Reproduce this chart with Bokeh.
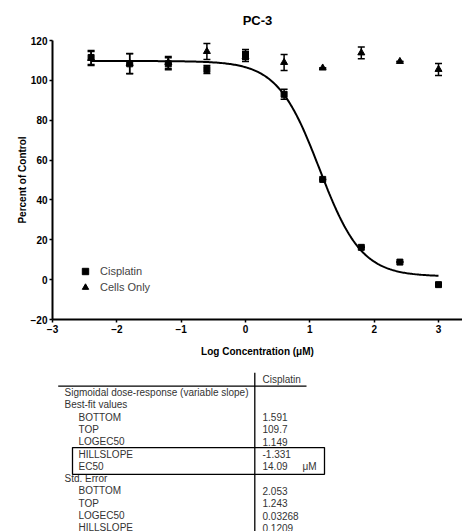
import numpy as np
from bokeh.plotting import figure
from bokeh.models import (Range1d, FixedTicker, Whisker, TeeHead, ColumnDataSource,
                          Legend, LegendItem, Title)
from bokeh.layouts import column
from bokeh.core.properties import value
from bokeh.embed import file_html
from bokeh.resources import INLINE

# ---------------- data ----------------
log_conc = [-2.4, -1.8, -1.2, -0.6, 0.0, 0.6, 1.2, 1.8, 2.4, 3.0]
cisplatin = [111.5, 108.3, 108.3, 105.5, 113.0, 93.0, 50.3, 16.2, 8.8, -2.5]
cisplatin_err = [3.5, 5.0, 3.0, 2.0, 2.5, 2.5, 0.0, 0.0, 0.0, 0.0]
cells_only = [111.0, 108.5, 109.0, 114.5, 112.0, 109.0, 106.2, 113.8, 109.5, 105.5]
cells_only_err = [3.5, 5.0, 3.0, 4.0, 2.5, 4.0, 0.0, 3.0, 0.0, 3.0]

x_ticks = [-3, -2, -1, 0, 1, 2, 3]
y_ticks = [-20, 0, 20, 40, 60, 80, 100, 120]

# fit parameters (from the results table)
fit_bottom = 1.591
fit_top = 109.7
fit_logec50 = 1.149
fit_hillslope = -1.331

table_header = "Cisplatin"
table_labels = ["Sigmoidal dose-response (variable slope)", "Best-fit values",
                "BOTTOM", "TOP", "LOGEC50", "HILLSLOPE", "EC50",
                "Std. Error", "BOTTOM", "TOP", "LOGEC50", "HILLSLOPE"]
table_indent = [0, 0, 1, 1, 1, 1, 1, 0, 1, 1, 1, 1]
table_values = ["", "", "1.591", "109.7", "1.149", "-1.331", "14.09",
                "", "2.053", "1.243", "0.03268", "0.1209"]
table_units = ["", "", "", "", "", "", "\u03bcM", "", "", "", "", ""]

FONT = value("Liberation Sans")

W = 462
PLOT_H = 372
TABLE_H = 531 - PLOT_H
LEFT = 52

# ---------------- plot ----------------
p = figure(width=W, height=PLOT_H, x_range=Range1d(-3, 3.373), y_range=Range1d(-20, 120),
           output_backend="svg", toolbar_location=None,
           min_border_left=LEFT, min_border_right=0, min_border_top=40, min_border_bottom=53)
p.outline_line_color = None
p.xgrid.visible = False
p.ygrid.visible = False
p.background_fill_color = "white"
p.border_fill_color = "white"

p.title.text = "PC-3"
p.title.align = "center"
p.title.vertical_align = "top"
p.title.offset = 4
p.title.text_font = "Liberation Sans"
p.title.text_font_size = "13px"
p.title.text_font_style = "bold"
p.title.text_color = "black"
p.title.standoff = 22

for ax in (p.xaxis[0], p.yaxis[0]):
    ax.axis_line_width = 2
    ax.axis_line_color = "black"
    ax.major_tick_line_width = 1.5
    ax.major_tick_line_color = "black"
    ax.major_tick_out = 3
    ax.major_tick_in = 0
    ax.minor_tick_line_color = None
    ax.major_label_text_font = "Liberation Sans"
    ax.major_label_text_font_size = "10px"
    ax.major_label_text_font_style = "bold"
    ax.major_label_text_color = "black"
    ax.major_label_standoff = 2

p.xaxis.ticker = FixedTicker(ticks=x_ticks)
p.yaxis.ticker = FixedTicker(ticks=y_ticks)
p.yaxis.axis_label = "Percent of Control"
p.yaxis.axis_label_text_font = "Liberation Sans"
p.yaxis.axis_label_text_font_size = "10px"
p.yaxis.axis_label_text_font_style = "bold"
p.yaxis.axis_label_text_color = "black"
p.yaxis.axis_label_standoff = 0

xlabel = Title(text="Log Concentration (\u03bcM)", align="center", offset=4,
               text_font="Liberation Sans", text_font_size="10px", text_font_style="bold",
               text_color="black", standoff=16)
p.add_layout(xlabel, "below")

# fitted curve
xc = np.linspace(log_conc[0], log_conc[-1], 300)
yc = fit_bottom + (fit_top - fit_bottom) / (1 + 10 ** ((fit_logec50 - xc) * fit_hillslope))
p.line(xc, yc, line_color="black", line_width=2)

src_c = ColumnDataSource(dict(x=log_conc, y=cisplatin,
                              lo=[v - e for v, e in zip(cisplatin, cisplatin_err)],
                              hi=[v + e for v, e in zip(cisplatin, cisplatin_err)]))
src_t = ColumnDataSource(dict(x=log_conc, y=cells_only,
                              lo=[v - e for v, e in zip(cells_only, cells_only_err)],
                              hi=[v + e for v, e in zip(cells_only, cells_only_err)]))

for src in (src_t, src_c):
    w = Whisker(base="x", upper="hi", lower="lo", source=src, line_width=1.5, line_color="black",
                upper_head=TeeHead(size=7, line_width=1.5, line_color="black"),
                lower_head=TeeHead(size=7, line_width=1.5, line_color="black"))
    p.add_layout(w)

r_t = p.scatter("x", "y", source=src_t, marker="triangle", size=7,
                fill_color="black", line_color="black")
r_c = p.scatter("x", "y", source=src_c, marker="square", size=6,
                fill_color="black", line_color="black")

legend = Legend(items=[LegendItem(label="Cisplatin", renderers=[r_c]),
                       LegendItem(label="Cells Only", renderers=[r_t])],
                location=(25, 24), border_line_color=None, background_fill_alpha=0,
                padding=0, margin=0, spacing=0, glyph_width=16, glyph_height=16,
                label_height=16, label_standoff=7, label_text_font="Liberation Sans",
                label_text_font_size="11px", label_text_color="#444444")
p.add_layout(legend)

# ---------------- results table ----------------
t = figure(width=W, height=TABLE_H, x_range=Range1d(LEFT, W), y_range=Range1d(531, PLOT_H),
           output_backend="svg", toolbar_location=None, min_border=0,
           min_border_left=LEFT, min_border_right=0, min_border_top=0, min_border_bottom=0,
           x_axis_type=None, y_axis_type=None)
t.outline_line_color = None
t.background_fill_color = "white"
t.border_fill_color = "white"

row0 = 392.0
row_h = 12.3
rows_y = [row0 + i * row_h for i in range(len(table_labels))]
label_x = [64 + 14 * ind for ind in table_indent]

tsrc = ColumnDataSource(dict(x=label_x, y=rows_y, text=table_labels))
t.text("x", "y", text="text", source=tsrc, text_font=FONT, text_font_size="10px",
       text_baseline="middle", text_align="left", text_color="#333333")
vsrc = ColumnDataSource(dict(x=[262] * len(table_values), y=rows_y, text=table_values))
t.text("x", "y", text="text", source=vsrc, text_font=FONT, text_font_size="10px",
       text_baseline="middle", text_align="left", text_color="#333333")
usrc = ColumnDataSource(dict(x=[302] * len(table_units), y=rows_y, text=table_units))
t.text("x", "y", text="text", source=usrc, text_font=FONT, text_font_size="10px",
       text_baseline="middle", text_align="left", text_color="#333333")
t.text(x=[262], y=[row0 - 12.7], text=[table_header], text_font=FONT, text_font_size="10px",
       text_baseline="middle", text_align="left", text_color="#333333")

t.segment(x0=[254.3], y0=[PLOT_H], x1=[254.3], y1=[531], line_color="black", line_width=1.3)
t.segment(x0=[57.7], y0=[385.7], x1=[306], y1=[385.7], line_color="black", line_width=1.3)
hs = table_labels.index("HILLSLOPE")
box_top = rows_y[hs] - 6.4
box_bot = rows_y[hs + 1] + 8
t.quad(left=[72], right=[324], top=[box_top], bottom=[box_bot], fill_color=None,
       line_color="black", line_width=1.3)

layout = column(p, t, spacing=0)
open("out.html", "w").write(file_html(layout, INLINE))
